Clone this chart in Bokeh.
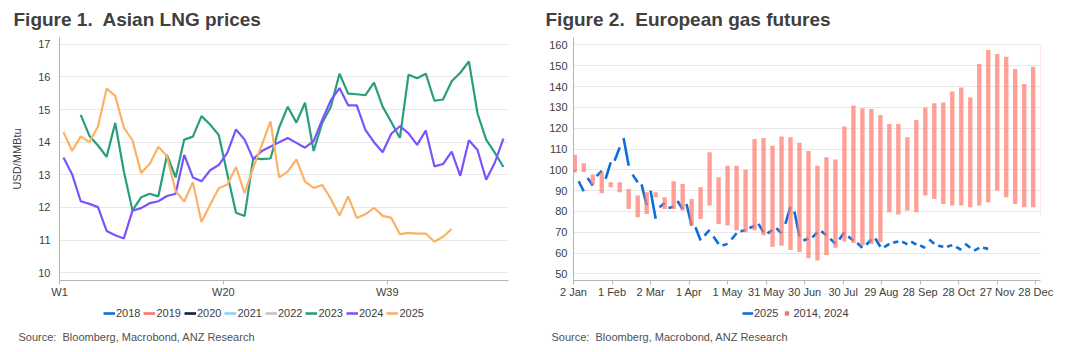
import numpy as np
from bokeh.plotting import figure
from bokeh.layouts import row, column
from bokeh.models import Range1d, FixedTicker, Legend, LegendItem, Label
from bokeh.embed import file_html
from bokeh.resources import INLINE

FONT = "Liberation Sans"
TXT = "#404040"
AXIS = "#b4b4b4"
GRID = "#e8e8e8"

# ---------------- Figure 1 data: Asian LNG prices (USD/MMBtu, weekly) ----------------
week_ticks = [1, 20, 39]
week_tick_labels = ["W1", "W20", "W39"]
years = ["2018", "2019", "2020", "2021", "2022", "2023", "2024", "2025"]
year_colors = ["#0a6fdc", "#f4766b", "#1b1748", "#8ad4f5", "#c4c4c4", "#2a9d7e", "#7b52ff", "#fbb266"]

lng_2023 = [None, None, 14.84, 14.2, 13.9, 13.55, 14.59, 13.1, 11.91, 12.31, 12.42, 12.34, 13.61,
            12.92, 14.08, 14.17, 14.8, 14.54, 14.22, 13.02, 11.84, 11.74, 13.51, 13.48, 13.5, 14.45,
            15.09, 14.6, 15.21, 13.73, 14.59, 15.09, 16.1, 15.49, 15.47, 15.44, 15.83, 15.09, 14.62,
            14.13, 16.07, 15.96, 16.1, 15.27, 15.31, 15.87, 16.13, 16.48, 14.88, 14.08, 13.68, 13.24]
lng_2024 = [13.53, 13.02, 12.19, 12.11, 12.01, 11.28, 11.15, 11.05, 11.9, 11.98, 12.13, 12.19, 12.35,
            12.42, 13.61, 12.92, 12.8, 13.14, 13.3, 13.68, 14.39, 14.08, 13.48, 13.73, 13.87, 14.0,
            14.13, 13.98, 13.83, 14.03, 14.69, 15.29, 15.66, 15.13, 15.13, 14.38, 14.0, 13.69, 14.26,
            14.49, 14.27, 13.92, 14.36, 13.26, 13.33, 13.71, 12.97, 14.06, 13.76, 12.85, 13.37, 14.11]
lng_2025 = [14.31, 13.73, 14.18, 14.0, 14.48, 15.64, 15.42, 14.45, 14.06, 13.06, 13.33, 13.86, 13.57,
            12.5, 12.18, 12.77, 11.55, 12.08, 12.59, 12.7, 13.24, 12.44, 13.22, 13.92, 14.64, 12.92,
            13.1, 13.47, 12.79, 12.6, 12.69, 12.26, 11.75, 12.34, 11.68, 11.79, 11.99, 11.74, 11.68,
            11.18, 11.22, 11.2, 11.2, 10.95, 11.1, 11.34, None, None, None, None, None, None]

# ---------------- Figure 2 data: European gas futures ----------------
date_ticks = [0, 30, 60, 90, 120, 150, 180, 210, 240, 270, 300, 330, 360]
date_tick_labels = ["2 Jan", "1 Feb", "2 Mar", "1 Apr", "1 May", "31 May", "30 Jun",
                    "30 Jul", "29 Aug", "28 Sep", "28 Oct", "27 Nov", "28 Dec"]
# 2025 contract: value at the start and at the end of each trading week
fut_2025_week_open = [99.6, 94.5, 96.1, 97.0, 95.6, 104.4, 115.3, 97.7, 93.0, 90.0, 82.0, 81.7, 85.0,
                      83.6, 72.4, 68.4, 67.9, 63.6, 66.5, 70.5, 72.0, 74.0, 69.5, 72.0, 74.0, 80.0,
                      66.0, 67.5, 70.5, 66.8, 66.5, 68.0, 64.8, 64.0, 67.0, 62.8, 65.0, 65.5, 65.5,
                      63.6, 66.5, 63.5, 63.0, 63.0, 64.5, 61.2, 62.5]
fut_2025_week_close = [99.0, 89.7, 92.4, 99.5, 103.6, 110.8, 102.0, 94.0, 83.0, 76.5, 84.0, 82.3, 81.2,
                       73.2, 66.0, 71.1, 64.4, 64.4, 69.5, 71.0, 73.0, 70.0, 71.0, 69.5, 82.3, 68.0,
                       67.0, 70.0, 68.5, 64.5, 70.0, 66.0, 62.5, 66.5, 63.0, 64.4, 65.5, 64.2, 64.0,
                       62.5, 64.5, 63.0, 63.8, 61.5, 62.5, 62.5, 62.0]
# 2014-2024 range: weekly high and low
range_high = [107.3, 103.2, 97.7, 98.8, 94.0, 94.0, 90.8, 87.6, 89.2, 89.2, 86.8, 94.5, 93.2, 86.0,
              91.6, 108.4, 96.4, 102.0, 102.0, 100.0, 114.8, 115.3, 111.6, 116.0, 115.6, 113.0,
              109.0, 102.0, 106.0, 105.0, 120.8, 130.9, 129.6, 129.2, 126.4, 122.0, 122.0, 115.6,
              124.0, 130.0, 132.0, 132.4, 137.7, 139.6, 134.8, 150.9, 157.6, 155.7, 154.4, 148.5,
              141.2, 149.6, 159.7]
range_low = [98.8, 99.0, 92.9, 88.7, 91.6, 89.2, 81.2, 77.2, 78.8, 86.8, 81.2, 81.2, 80.4, 73.2,
             76.4, 82.8, 74.0, 73.2, 71.0, 70.0, 71.0, 68.5, 63.0, 63.5, 61.5, 60.5, 57.5, 56.4,
             59.0, 62.5, 65.5, 64.8, 63.6, 64.4, 65.2, 79.6, 78.5, 80.4, 79.6, 87.6, 86.0, 83.6,
             82.8, 82.8, 82.0, 82.8, 84.4, 90.0, 86.8, 83.6, 82.0, 82.0, 78.0]

TITLE1 = "Figure 1.\u00a0 Asian LNG prices"
TITLE2 = "Figure 2.\u00a0 European gas futures"
SOURCE = "Source:\u00a0 Bloomberg, Macrobond, ANZ Research"
BLUE = "#0a6fdc"
BAR = "#ff7b6e"

# off-canvas placeholder points so legend swatches are drawn (never visible)
PROXY_X = [-3, -2]
PROXY_Y = [-3, -3]


def nanarr(v):
    return np.array([np.nan if x is None else x for x in v], dtype=float)


def style_axes(p):
    for ax in (p.xaxis[0], p.yaxis[0]):
        ax.axis_line_color = AXIS
        ax.major_label_text_font = FONT
        ax.major_label_text_font_size = "11px"
        ax.major_label_text_color = TXT
        ax.minor_tick_line_color = None
    p.xaxis.major_tick_line_color = AXIS
    p.xaxis.major_tick_out = 4
    p.xaxis.major_tick_in = 0
    p.xaxis.major_label_standoff = 1
    p.yaxis.major_tick_line_color = None
    p.yaxis.major_tick_out = 0
    p.yaxis.major_tick_in = 0
    p.xgrid.visible = False
    p.ygrid.grid_line_color = GRID


def blank_strip(height):
    return figure(width=1074, height=height, x_range=Range1d(0, 1), y_range=Range1d(0, 1),
                  x_axis_type=None, y_axis_type=None, output_backend="svg", toolbar_location=None,
                  min_border=0, outline_line_color=None)


def make_legend(items, loc, glyph_width=12):
    return Legend(items=items, orientation="horizontal", location=loc, glyph_width=glyph_width,
                  glyph_height=12, label_height=12, label_width=10, label_standoff=1, spacing=3,
                  padding=0, margin=0, label_text_font=FONT, label_text_font_size="11px",
                  label_text_color=TXT, border_line_color=None, background_fill_alpha=0)


# ================= Title strip =================
top = blank_strip(35)
for txt, xpos in ((TITLE1, 13), (TITLE2, 545)):
    top.add_layout(Label(x=xpos, y=16, x_units="screen", y_units="screen", text=txt,
                         text_font=FONT, text_font_size="19px", text_font_style="bold",
                         text_color=TXT, text_baseline="alphabetic", text_align="left"))

# ================= Figure 1 =================
p1 = figure(width=530, height=267, x_range=Range1d(1, 53.05), y_range=Range1d(9.76, 17.21),
            output_backend="svg", toolbar_location=None, min_border_left=59, min_border_right=22,
            min_border_top=0, min_border_bottom=21, outline_line_color=None)
style_axes(p1)
p1.xaxis.ticker = FixedTicker(ticks=week_ticks)
p1.xaxis.major_label_overrides = dict(zip(week_ticks, week_tick_labels))
p1.yaxis.ticker = FixedTicker(ticks=list(range(10, 18)))
p1.yaxis.major_label_standoff = 9
p1.yaxis.axis_label = "USD/MMBtu"
p1.yaxis.axis_label_text_font = FONT
p1.yaxis.axis_label_text_font_size = "11px"
p1.yaxis.axis_label_text_font_style = "normal"
p1.yaxis.axis_label_text_color = TXT
p1.yaxis.axis_label_standoff = 12

wk = 1.46 + np.arange(52)
series = {"2023": lng_2023, "2024": lng_2024, "2025": lng_2025}
for yr, col in zip(years, year_colors):
    if yr in series:
        p1.line(wk, nanarr(series[yr]), line_color=col, line_width=2.2)

# ================= Figure 2 =================
p2 = figure(width=544, height=267, x_range=Range1d(0, 363.7), y_range=Range1d(46.8, 163.6),
            output_backend="svg", toolbar_location=None, min_border_left=43, min_border_right=34,
            min_border_top=2, min_border_bottom=22, outline_line_color=None)
style_axes(p2)
p2.xaxis.ticker = FixedTicker(ticks=date_ticks)
p2.xaxis.major_label_overrides = dict(zip(date_ticks, date_tick_labels))
p2.yaxis.ticker = FixedTicker(ticks=list(range(50, 161, 10)))
p2.yaxis.major_label_standoff = 6

j = np.arange(len(fut_2025_week_open))
p2.segment(x0=np.maximum(0, 7 * j - 3), y0=fut_2025_week_open, x1=7 * j + 1,
           y1=fut_2025_week_close, line_color=BLUE, line_width=2.6)
k = np.arange(len(range_high))
p2.vbar(x=7 * k + 1, width=3.4, top=range_high, bottom=range_low,
        fill_color=BAR, fill_alpha=0.72, line_color=None)

# ================= Legend + source strip =================
bottom = blank_strip(50)
items1 = []
for yr, col in zip(years, year_colors):
    r = bottom.line(x=PROXY_X, y=PROXY_Y, line_color=col, line_width=2.6)
    items1.append(LegendItem(label=yr, renderers=[r]))
bottom.add_layout(make_legend(items1, (103, 33)), "center")

r_b = bottom.line(x=PROXY_X, y=PROXY_Y, line_color=BLUE, line_width=2.6)
r_sq = bottom.scatter(x=PROXY_X, y=PROXY_Y, marker="square", size=7, fill_color="#f4766b",
                      line_color=None)
bottom.add_layout(make_legend([LegendItem(label="2025", renderers=[r_b]),
                               LegendItem(label="2014, 2024", renderers=[r_sq])],
                              (742, 33), glyph_width=11), "center")
for xpos in (18, 551):
    bottom.add_layout(Label(x=xpos, y=16, x_units="screen", y_units="screen", text=SOURCE,
                            text_font=FONT, text_font_size="11px", text_color="#505050",
                            text_baseline="alphabetic", text_align="left"))

layout = column(top, row(p1, p2), bottom)
open("out.html", "w").write(file_html(layout, INLINE))
